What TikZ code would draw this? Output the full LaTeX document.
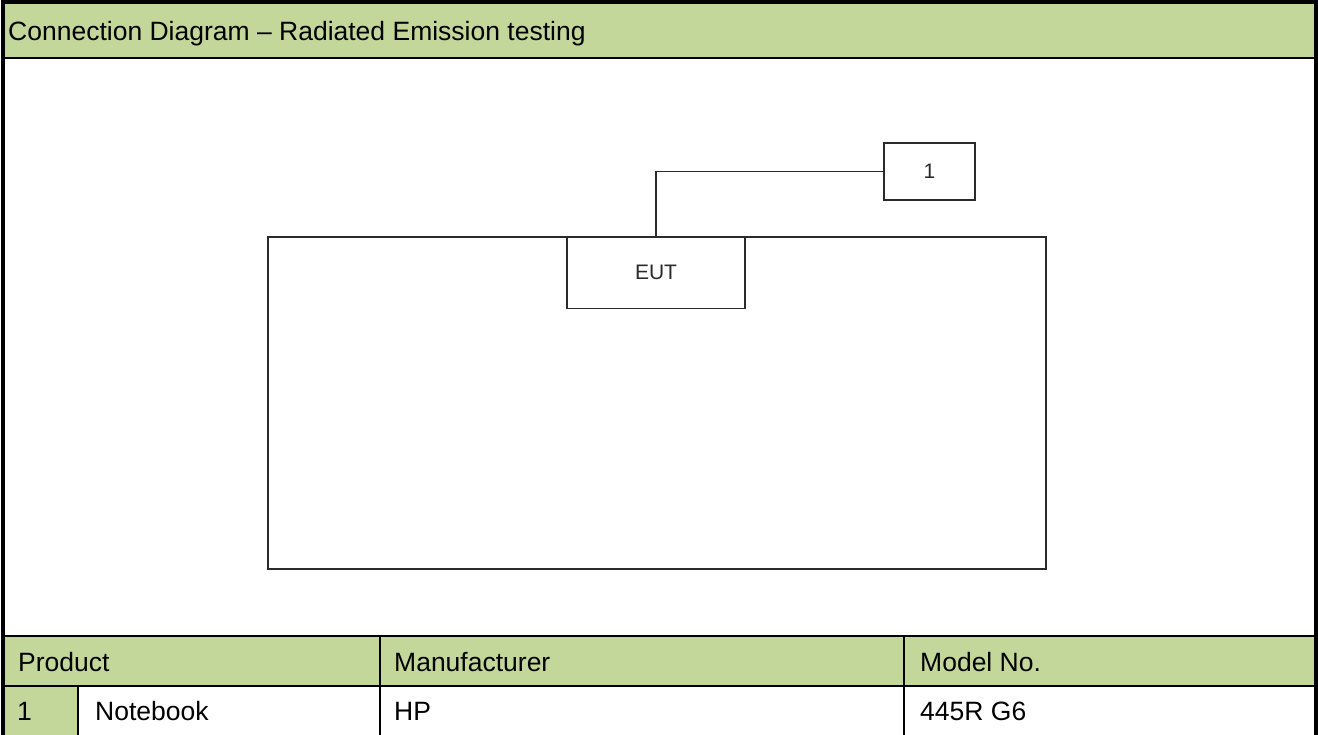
\documentclass[tikz,border=0pt]{standalone}
\usepackage{fontspec}
\setmainfont{Liberation Sans}
\definecolor{hdr}{HTML}{C4D79B}
\definecolor{diag}{HTML}{2A2A2A}
\begin{document}
\begin{tikzpicture}[x=1pt,y=-1pt,
  frame/.style={line width=4pt,black},
  rule/.style={line width=2.5pt,black},
  cell/.style={line width=2pt,black},
  txt/.style={anchor=base west,inner sep=0pt,font=\fontsize{26.5}{31}\selectfont},
  dbox/.style={draw=diag,line width=1.5pt,inner sep=0pt,text=diag,font=\fontsize{21}{25}\selectfont},
  wire/.style={draw=diag,line width=1.5pt}]
\useasboundingbox (0,0) rectangle (1318,735);
% fills
\fill[hdr] (3,3) rectangle (1316,58);
\fill[hdr] (3,636) rectangle (1316,686);
\fill[hdr] (3,686) rectangle (78,735);
% frame
\draw[frame] (3,735) -- (3,2) -- (1316,2) -- (1316,735);
\draw[rule] (3,58) -- (1316,58);
\draw[rule] (3,636) -- (1316,636);
\draw[cell] (3,686) -- (1316,686);
\draw[cell] (380,636) -- (380,735);
\draw[cell] (904,636) -- (904,735);
\draw[cell] (78,686) -- (78,735);
% title
\node[txt] (title) at (8,40.5) {Connection Diagram – Radiated Emission testing};
% diagram
\node[dbox,anchor=north west,minimum width=778,minimum height=331.5] (table) at (267,236.5) {};
\node[dbox,minimum width=178,minimum height=72] (eut) at (656,272.5) {EUT};
\node[dbox,minimum width=91,minimum height=57] (b1) at (929.5,171.5) {1};
\draw[wire] (eut.north) |- (b1.west);
% table
\node[txt] (hprod) at (18,671.5) {Product};
\node[txt] (hman) at (394,671.5) {Manufacturer};
\node[txt] (hmod) at (920,671.5) {Model No.};
\node[txt] (n1) at (17,720) {1};
\node[txt] (nprod) at (95,720) {Notebook};
\node[txt] (nman) at (394,720) {HP};
\node[txt] (nmod) at (920,720) {445R G6};
\end{tikzpicture}
\end{document}
